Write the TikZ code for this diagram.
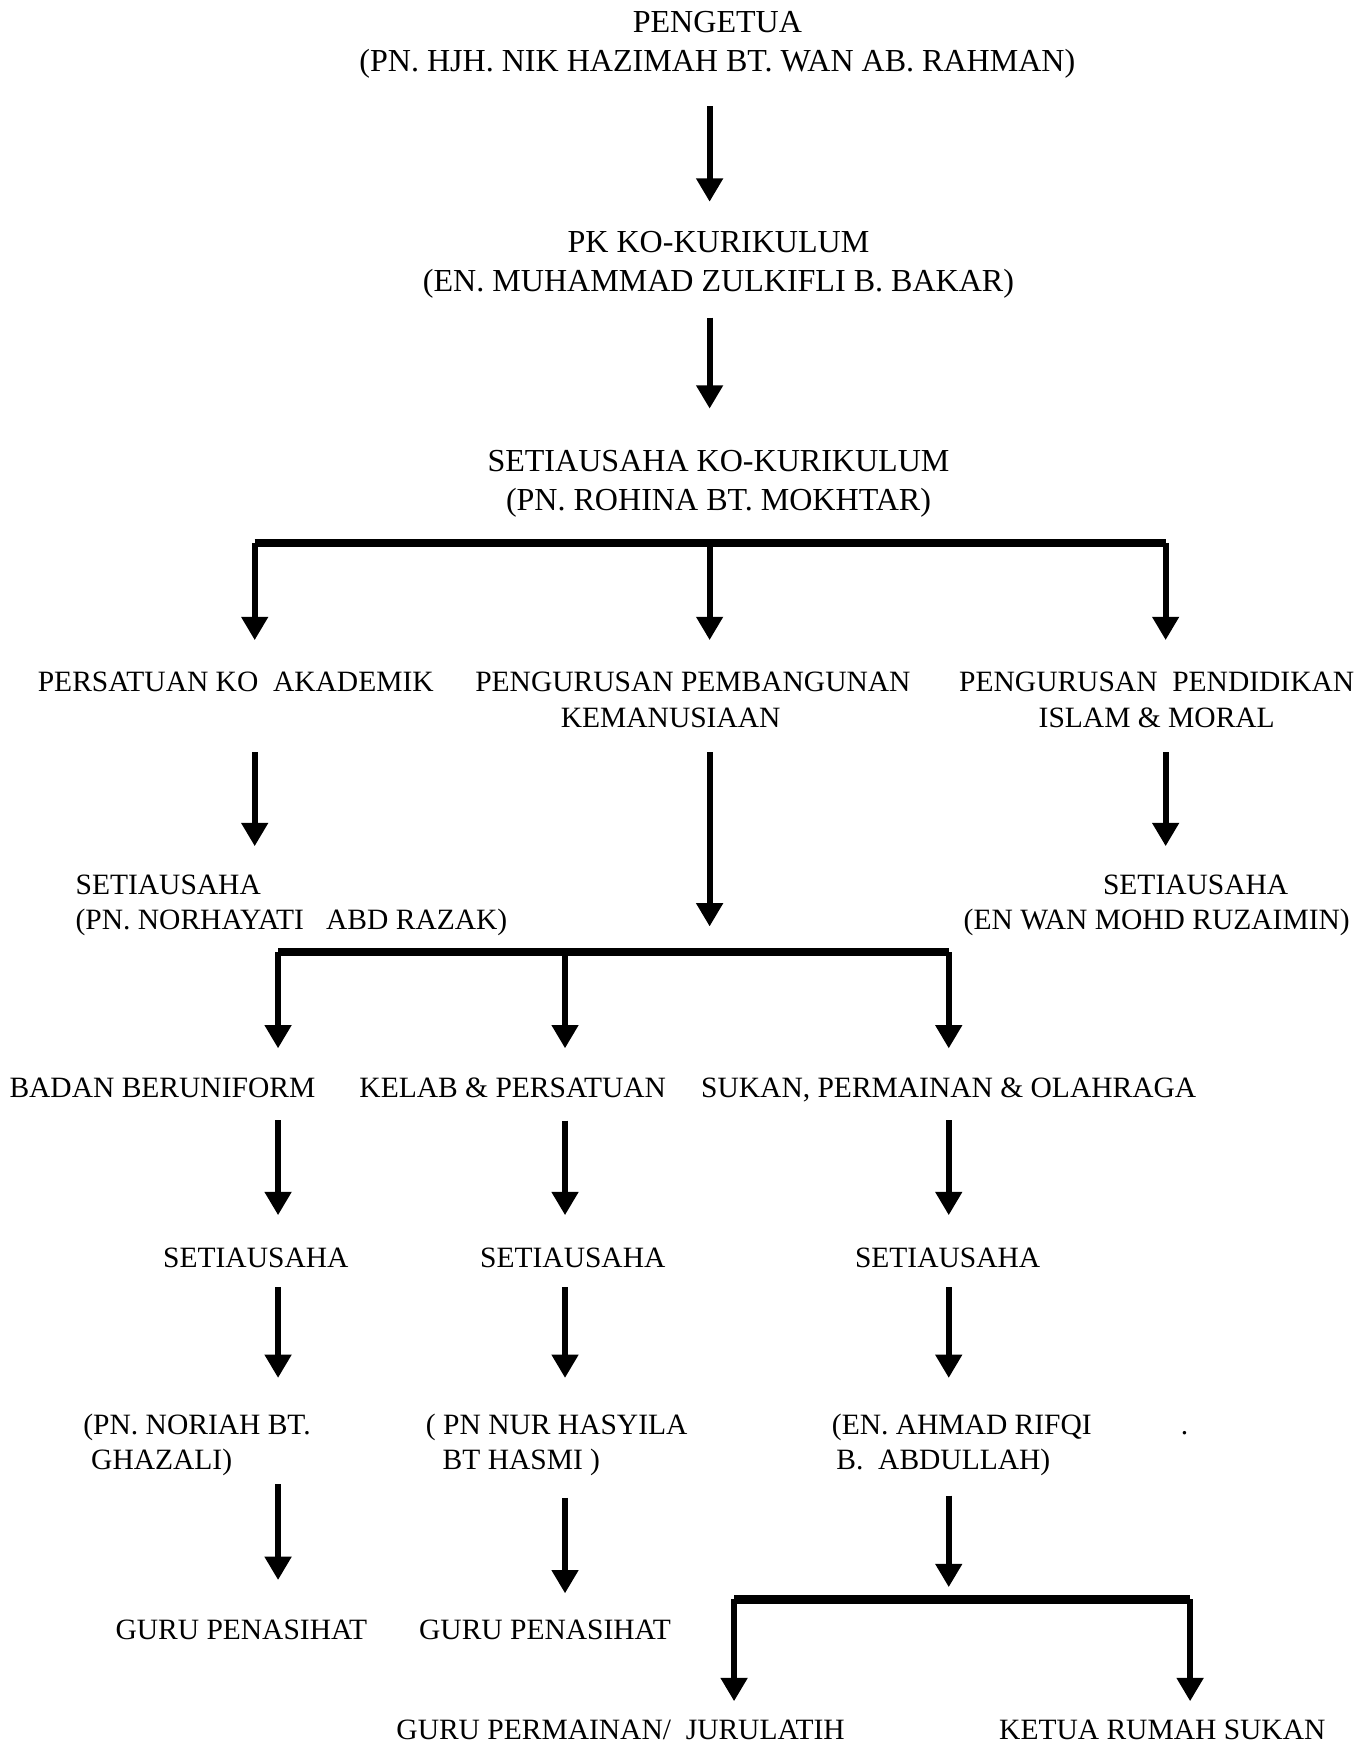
\documentclass[tikz,border=0pt]{standalone}
\usepackage{fontspec}
\setmainfont{Liberation Serif}
\usetikzlibrary{arrows.meta,positioning}

\tikzset{
  lbl/.style={inner sep=0pt, outer sep=0pt, align=center, font=\fontsize{15.1}{18.3}\selectfont},
  lblbig/.style={lbl, font=\fontsize{16.4}{19.9}\selectfont},
  lbll/.style={lbl, align=left, anchor=west},
  arr/.style={line width=0.11cm, -{Triangle[width=0.46cm,length=0.42cm]}},
  bus/.style={line width=0.15cm},
}

\begin{document}
\begin{tikzpicture}[x=0.02cm, y=-0.02cm]
      \useasboundingbox (0,0) rectangle (1231,1568);
      % top of the chart
      \node[lblbig] (pengetua) at (645,40) {PENGETUA\\(PN. HJH. NIK HAZIMAH BT. WAN AB. RAHMAN)};
      \node[lblbig] (pk) at (646,238) {PK KO-KURIKULUM\\(EN. MUHAMMAD ZULKIFLI B. BAKAR)};
      \node[lblbig] (setia) at (646,435) {SETIAUSAHA KO-KURIKULUM\\(PN. ROHINA BT. MOKHTAR)};
      % second level
      \node[lbl] (persatuan) at (212,613) {PERSATUAN KO\ \ AKADEMIK};
      \node[lbl] (pembangunan) at (623,629) {PENGURUSAN PEMBANGUNAN\\KEMANUSIAAN\hspace*{0.8cm}};
      \node[lbl] (islam) at (1040,629) {PENGURUSAN\ \ PENDIDIKAN\\ISLAM \& MORAL};
      \node[lbll] (setL) at (68,814) {SETIAUSAHA\\(PN. NORHAYATI\ \ \ ABD RAZAK)};
      \node[lbl] (setR) at (1040,814) {\hspace*{1.4cm}SETIAUSAHA\\(EN WAN MOHD RUZAIMIN)};
      % third level
      \node[lbl] (badan) at (146,978) {BADAN BERUNIFORM};
      \node[lbl] (kelab) at (461,978) {KELAB \& PERSATUAN};
      \node[lbl] (sukan) at (853,980) {SUKAN, PERMAINAN \& OLAHRAGA};
      \node[lbl] (setA) at (230,1131) {SETIAUSAHA};
      \node[lbl] (setB) at (515,1131) {SETIAUSAHA};
      \node[lbl] (setC) at (852,1131) {SETIAUSAHA};
      \node[lbll] (noriah) at (75,1299) {(PN. NORIAH BT.\\\hspace*{0.14cm}GHAZALI)};
      \node[lbll] (hasyila) at (383,1299) {( PN NUR HASYILA\\\hspace*{0.3cm}BT HASMI )};
      \node[lbll] (rifqi) at (748,1299) {(EN. AHMAD RIFQI\hspace{1.6cm}.\\\hspace*{0.08cm}B.\ \ ABDULLAH)};
      \node[lbl] (guruA) at (217,1465) {GURU PENASIHAT};
      \node[lbl] (guruB) at (490,1465) {GURU PENASIHAT};
      \node[lbl] (permainan) at (558,1555) {GURU PERMAINAN/\ \ JURULATIH};
      \node[lbl] (ketua) at (1045,1555) {KETUA RUMAH SUKAN};

      % bus points
      \coordinate (b1l) at (229,488);
      \coordinate (b1m) at (638,488);
      \coordinate (b1r) at (1048,488);
      \coordinate (b2l) at (250,856);
      \coordinate (b2c) at (638,856);
      \coordinate (b2m) at (508,856);
      \coordinate (b2r) at (853,856);
      \coordinate (b3l) at (660,1438);
      \coordinate (b3c) at (853,1438);
      \coordinate (b3r) at (1070,1438);

      % arrows
      \draw[arr, shorten <=0.51cm, shorten >=0.53cm] (pengetua.south -| b1m) -- (pk.north -| b1m);
      \draw[arr, shorten <=0.35cm, shorten >=0.75cm] (pk.south -| b1m) -- (setia.north -| b1m);
      \draw[bus] (b1l) -- (b1r);
      \draw[arr, shorten >=0.57cm] (b1l) -- (persatuan.north -| b1l);
      \draw[arr, shorten >=0.57cm] (b1m) -- (pembangunan.north -| b1m);
      \draw[arr, shorten >=0.57cm] (b1r) -- (islam.north -| b1r);
      \draw[arr, shorten <=1.09cm, shorten >=0.51cm] (persatuan.south -| b1l) -- (setL.north -| b1l);
      \draw[arr, shorten <=0.45cm, shorten >=0.51cm] (islam.south -| b1r) -- (setR.north -| b1r);
      \draw[arr, shorten <=0.45cm, shorten >=0.46cm] (pembangunan.south -| b1m) -- (b2c);
      \draw[bus] (b2l) -- (b2r);
      \draw[arr, shorten >=0.53cm] (b2l) -- (badan.north -| b2l);
      \draw[arr, shorten >=0.53cm] (b2m) -- (kelab.north -| b2m);
      \draw[arr, shorten >=0.53cm] (b2r) -- (sukan.north -| b2r);
      \draw[arr, shorten <=0.41cm, shorten >=0.59cm] (badan.south -| b2l) -- (setA.north -| b2l);
      \draw[arr, shorten <=0.41cm, shorten >=0.59cm] (kelab.south -| b2m) -- (setB.north -| b2m);
      \draw[arr, shorten <=0.33cm, shorten >=0.59cm] (sukan.south -| b2r) -- (setC.north -| b2r);
      \draw[arr, shorten <=0.35cm, shorten >=0.64cm] (setA.south -| b2l) -- (noriah.north -| b2l);
      \draw[arr, shorten <=0.35cm, shorten >=0.64cm] (setB.south -| b2m) -- (hasyila.north -| b2m);
      \draw[arr, shorten <=0.35cm, shorten >=0.64cm] (setC.south -| b2r) -- (rifqi.north -| b2r);
      \draw[arr, shorten <=0.15cm, shorten >=0.71cm] (noriah.south -| b2l) -- (guruA.north -| b2l);
      \draw[arr, shorten <=0.39cm, shorten >=0.47cm] (hasyila.south -| b2m) -- (guruB.north -| b2m);
      \draw[arr, shorten <=0.35cm, shorten >=0.22cm] (rifqi.south -| b2r) -- (b3c);
      \draw[bus] (b3l) -- (b3r);
      \draw[arr, shorten >=0.33cm] (b3l) -- (permainan.north -| b3l);
      \draw[arr, shorten >=0.33cm] (b3r) -- (ketua.north -| b3r);
    \end{tikzpicture}
\end{document}
